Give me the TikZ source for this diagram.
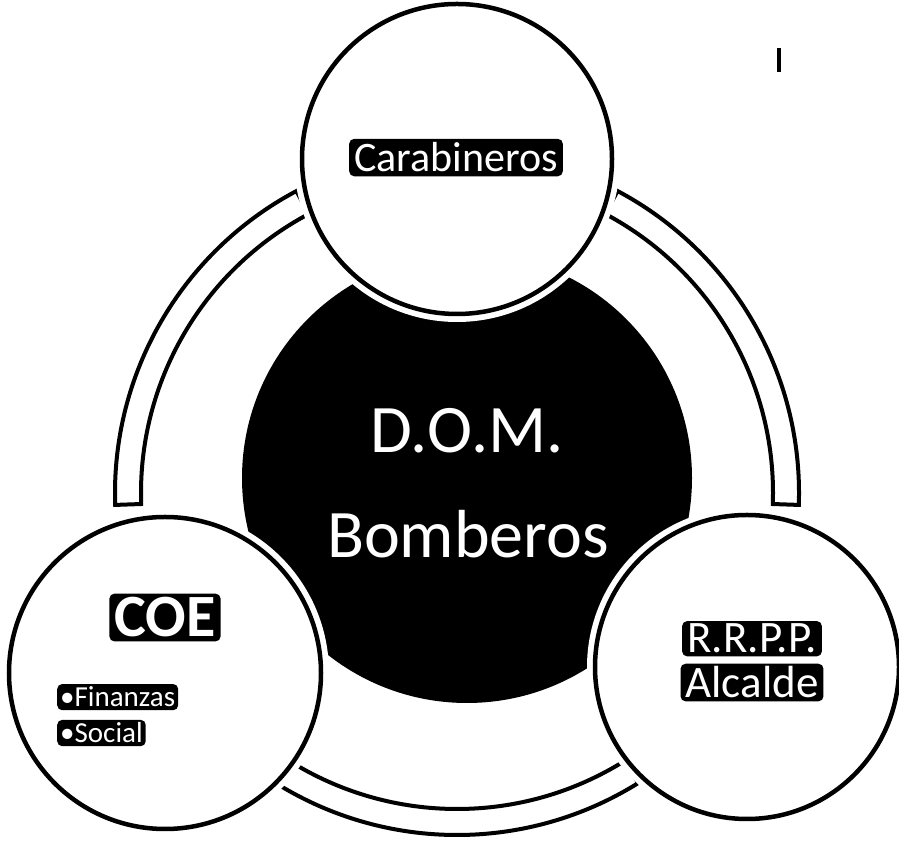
\documentclass[tikz,border=0pt]{standalone}
\usepackage{fontspec}
\setmainfont{Carlito}
\usetikzlibrary{positioning}
\tikzset{
  sat/.style={circle, draw=black, line width=4.5pt, fill=white, minimum size=310pt, inner sep=0pt,
    preaction={draw=white, line width=16pt}},
  tag/.style={fill=black, text=white, rounded corners=5pt, inner xsep=5pt, inner ysep=4pt},
  seg/.style={draw=black, line width=4pt, fill=white, line join=miter},
}
\begin{document}
\begin{tikzpicture}[x=1pt, y=1pt]
			\useasboundingbox (0,0) rectangle (899,842);
			\coordinate (ring) at (457,349);

			% ring pieces
			\foreach \a/\b in {118/182, 238/302, -2/62}
				\draw[seg] ([shift={(\a:342)}]ring) arc[start angle=\a, end angle=\b, radius=342pt]
					-- ([shift={(\b:316)}]ring) arc[start angle=\b, end angle=\a, radius=316pt] -- cycle;

			\node(dom) [circle, fill=black, minimum size=450pt] at (467,364) {};

			\node(top) [sat] at (457,683) {};
			\node(coe) [sat, minimum size=312pt] at (165,169) {};
			\node(rrpp) [sat, minimum size=304pt] at (747,175) {};

			\node(l1) [anchor=base, text=white, font=\fontsize{68}{80}\selectfont] at (467,389) {D.O.M.};
			\node(l2) [anchor=base, text=white, font=\fontsize{68}{80}\selectfont] at (468,284) {Bomberos};

			\node(carab) [tag, anchor=base, font=\fontsize{42}{48}\selectfont] at (456,670) {Carabineros};
			\node(coet) [tag, anchor=base, font=\bfseries\fontsize{60}{68}\selectfont] at (165,205) {COE};
			\node(fin) [tag, anchor=base west, inner ysep=3pt, inner xsep=3pt, font=\fontsize{29}{34}\selectfont] at (57,135) {•Finanzas};
			\node(soc) [tag, anchor=base west, inner ysep=3pt, inner xsep=3pt, font=\fontsize{29}{34}\selectfont] at (57,99) {•Social};
			\node(rr) [tag, anchor=base, inner ysep=3pt, font=\fontsize{45}{52}\selectfont] at (752,189) {R.R.P.P.};
			\node(alc) [tag, anchor=base, inner ysep=3pt, font=\fontsize{45}{52}\selectfont] at (752,144) {Alcalde};

			\fill (777,770) rectangle (781,794);
		\end{tikzpicture}
\end{document}
